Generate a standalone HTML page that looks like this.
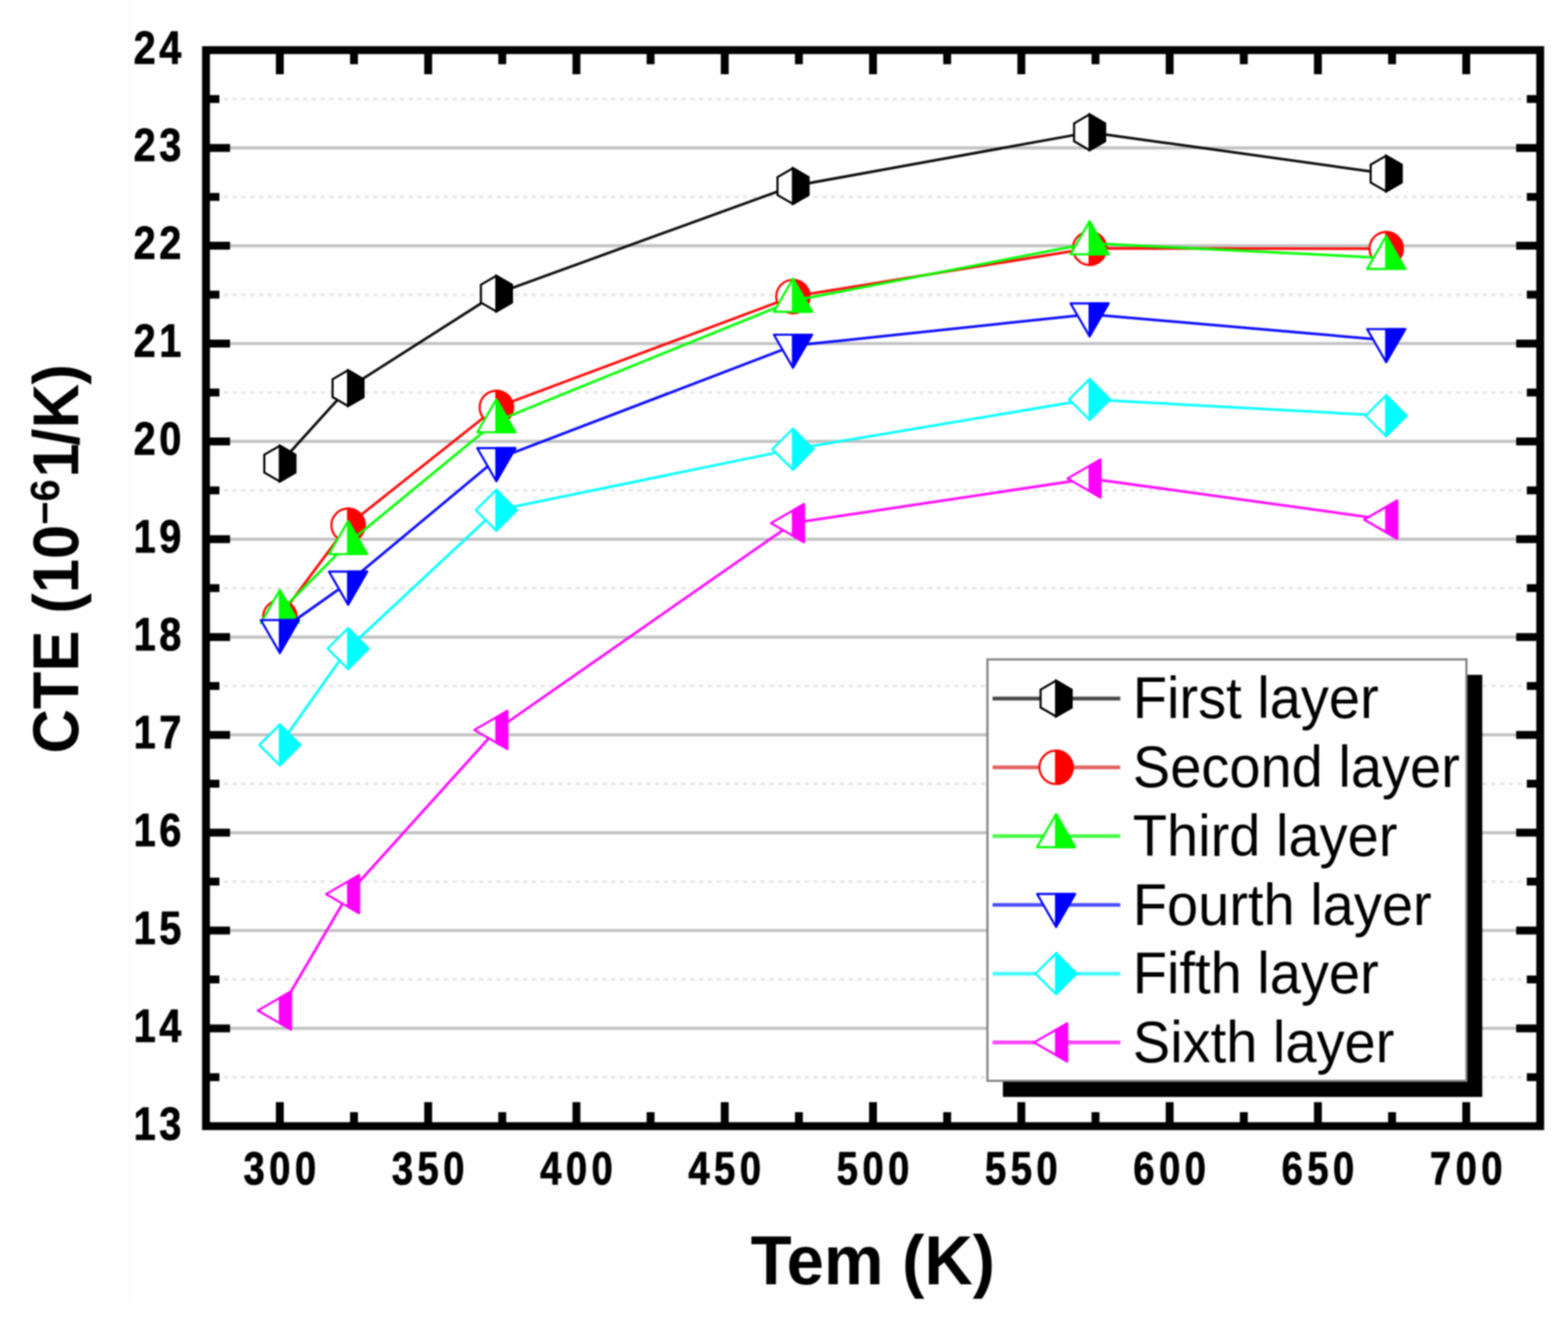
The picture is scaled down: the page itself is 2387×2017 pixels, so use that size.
<!DOCTYPE html>
<html lang="en"><head><meta charset="utf-8"><title>CTE versus Tem</title>
<style>html,body{margin:0;padding:0;background:#fefefe}body{width:2387px;height:2017px;overflow:hidden}svg{display:block;filter:blur(0.9px)}text{font-family:"Liberation Sans",sans-serif;fill:#000}.b{font-weight:bold}</style></head><body>
<svg width="2387" height="2017" viewBox="0 0 2387 2017">
<rect x="-20" y="-20" width="2427" height="2057" fill="#fefefe"/>
<rect x="195.8" y="-20" width="3" height="2000" fill="#fcfcfc"/>
<g fill="none">
<path d="M313.6,1565.4H2344.7 M313.6,1416.5H2344.7 M313.6,1267.6H2344.7 M313.6,1118.7H2344.7 M313.6,969.8H2344.7 M313.6,820.8H2344.7 M313.6,671.9H2344.7 M313.6,523H2344.7 M313.6,374.1H2344.7 M313.6,225.2H2344.7" stroke="#c2c2c2" stroke-width="4.7"/>
<path d="M340.6,1639.8H2344.7 M340.6,1490.9H2344.7 M340.6,1342H2344.7 M340.6,1193.1H2344.7 M340.6,1044.2H2344.7 M340.6,895.3H2344.7 M340.6,746.4H2344.7 M340.6,597.5H2344.7 M340.6,448.6H2344.7 M340.6,299.7H2344.7 M340.6,150.8H2344.7" stroke="#e9e9e9" stroke-width="4.2" stroke-dasharray="6.5 6.9"/>
</g>
<polyline points="426,705.7 529.9,590.9 755.6,447 1207.1,283.2 1658.7,201.4 2110.2,264.3" fill="none" stroke="#000" stroke-width="4.0" stroke-opacity="0.95" stroke-linejoin="round"/>
<g stroke="#000" stroke-width="3.2" stroke-linejoin="miter"><polygon points="426,678.5 449.6,692.1 449.6,719.3 426,732.9 402.4,719.3 402.4,692.1" fill="#fff"/><polygon points="426,678.5 449.6,692.1 449.6,719.3 426,732.9" fill="#000"/></g>
<g stroke="#000" stroke-width="3.2" stroke-linejoin="miter"><polygon points="529.9,563.7 553.4,577.3 553.4,604.5 529.9,618.1 506.3,604.5 506.3,577.3" fill="#fff"/><polygon points="529.9,563.7 553.4,577.3 553.4,604.5 529.9,618.1" fill="#000"/></g>
<g stroke="#000" stroke-width="3.2" stroke-linejoin="miter"><polygon points="755.6,419.8 779.2,433.4 779.2,460.6 755.6,474.2 732.1,460.6 732.1,433.4" fill="#fff"/><polygon points="755.6,419.8 779.2,433.4 779.2,460.6 755.6,474.2" fill="#000"/></g>
<g stroke="#000" stroke-width="3.2" stroke-linejoin="miter"><polygon points="1207.1,256 1230.7,269.6 1230.7,296.8 1207.1,310.4 1183.6,296.8 1183.6,269.6" fill="#fff"/><polygon points="1207.1,256 1230.7,269.6 1230.7,296.8 1207.1,310.4" fill="#000"/></g>
<g stroke="#000" stroke-width="3.2" stroke-linejoin="miter"><polygon points="1658.7,174.2 1682.2,187.8 1682.2,215 1658.7,228.6 1635.1,215 1635.1,187.8" fill="#fff"/><polygon points="1658.7,174.2 1682.2,187.8 1682.2,215 1658.7,228.6" fill="#000"/></g>
<g stroke="#000" stroke-width="3.2" stroke-linejoin="miter"><polygon points="2110.2,237.1 2133.7,250.7 2133.7,277.9 2110.2,291.5 2086.6,277.9 2086.6,250.7" fill="#fff"/><polygon points="2110.2,237.1 2133.7,250.7 2133.7,277.9 2110.2,291.5" fill="#000"/></g>
<polyline points="426,939 529.9,799.5 755.6,620.2 1207.1,451.4 1658.7,378 2110.2,378.6" fill="none" stroke="#f00" stroke-width="4.0" stroke-opacity="0.95" stroke-linejoin="round"/>
<g stroke="#f00" stroke-width="3.2"><circle cx="426" cy="939" r="25.4" fill="#fff"/><path d="M426,913.6A25.4,25.4 0 0 1 426,964.4Z" fill="#f00"/></g>
<g stroke="#f00" stroke-width="3.2"><circle cx="529.9" cy="799.5" r="25.4" fill="#fff"/><path d="M529.9,774.1A25.4,25.4 0 0 1 529.9,824.9Z" fill="#f00"/></g>
<g stroke="#f00" stroke-width="3.2"><circle cx="755.6" cy="620.2" r="25.4" fill="#fff"/><path d="M755.6,594.8A25.4,25.4 0 0 1 755.6,645.6Z" fill="#f00"/></g>
<g stroke="#f00" stroke-width="3.2"><circle cx="1207.1" cy="451.4" r="25.4" fill="#fff"/><path d="M1207.1,426A25.4,25.4 0 0 1 1207.1,476.8Z" fill="#f00"/></g>
<g stroke="#f00" stroke-width="3.2"><circle cx="1658.7" cy="378" r="25.4" fill="#fff"/><path d="M1658.7,352.6A25.4,25.4 0 0 1 1658.7,403.4Z" fill="#f00"/></g>
<g stroke="#f00" stroke-width="3.2"><circle cx="2110.2" cy="378.6" r="25.4" fill="#fff"/><path d="M2110.2,353.2A25.4,25.4 0 0 1 2110.2,404Z" fill="#f00"/></g>
<polyline points="426,931.6 529.9,826.8 755.6,641.3 1207.1,457.8 1658.7,370.3 2110.2,392.7" fill="none" stroke="#0f0" stroke-width="4.0" stroke-opacity="0.95" stroke-linejoin="round"/>
<g stroke="#0f0" stroke-width="3.2" stroke-linejoin="round"><polygon points="426,898.1 455,948.4 397,948.4" fill="#fff"/><polygon points="426,898.1 455,948.4 426,948.4" fill="#0f0"/></g>
<g stroke="#0f0" stroke-width="3.2" stroke-linejoin="round"><polygon points="529.9,793.3 558.9,843.5 500.8,843.5" fill="#fff"/><polygon points="529.9,793.3 558.9,843.5 529.9,843.5" fill="#0f0"/></g>
<g stroke="#0f0" stroke-width="3.2" stroke-linejoin="round"><polygon points="755.6,607.8 784.6,658 726.6,658" fill="#fff"/><polygon points="755.6,607.8 784.6,658 755.6,658" fill="#0f0"/></g>
<g stroke="#0f0" stroke-width="3.2" stroke-linejoin="round"><polygon points="1207.1,424.3 1236.2,474.6 1178.1,474.6" fill="#fff"/><polygon points="1207.1,424.3 1236.2,474.6 1207.1,474.6" fill="#0f0"/></g>
<g stroke="#0f0" stroke-width="3.2" stroke-linejoin="round"><polygon points="1658.7,336.8 1687.7,387.1 1629.7,387.1" fill="#fff"/><polygon points="1658.7,336.8 1687.7,387.1 1658.7,387.1" fill="#0f0"/></g>
<g stroke="#0f0" stroke-width="3.2" stroke-linejoin="round"><polygon points="2110.2,359.2 2139.2,409.4 2081.2,409.4" fill="#fff"/><polygon points="2110.2,359.2 2139.2,409.4 2110.2,409.4" fill="#0f0"/></g>
<polyline points="426,960.5 529.9,887 755.6,699 1207.1,526.3 1658.7,478.5 2110.2,517.7" fill="none" stroke="#00f" stroke-width="4.0" stroke-opacity="0.95" stroke-linejoin="round"/>
<g stroke="#00f" stroke-width="3.2" stroke-linejoin="round"><polygon points="426,994 455,943.8 397,943.8" fill="#fff"/><polygon points="426,994 455,943.8 426,943.8" fill="#00f"/></g>
<g stroke="#00f" stroke-width="3.2" stroke-linejoin="round"><polygon points="529.9,920.5 558.9,870.2 500.8,870.2" fill="#fff"/><polygon points="529.9,920.5 558.9,870.2 529.9,870.2" fill="#00f"/></g>
<g stroke="#00f" stroke-width="3.2" stroke-linejoin="round"><polygon points="755.6,732.5 784.6,682.2 726.6,682.2" fill="#fff"/><polygon points="755.6,732.5 784.6,682.2 755.6,682.2" fill="#00f"/></g>
<g stroke="#00f" stroke-width="3.2" stroke-linejoin="round"><polygon points="1207.1,559.8 1236.2,509.5 1178.1,509.5" fill="#fff"/><polygon points="1207.1,559.8 1236.2,509.5 1207.1,509.5" fill="#00f"/></g>
<g stroke="#00f" stroke-width="3.2" stroke-linejoin="round"><polygon points="1658.7,512 1687.7,461.8 1629.7,461.8" fill="#fff"/><polygon points="1658.7,512 1687.7,461.8 1658.7,461.8" fill="#00f"/></g>
<g stroke="#00f" stroke-width="3.2" stroke-linejoin="round"><polygon points="2110.2,551.2 2139.2,501 2081.2,501" fill="#fff"/><polygon points="2110.2,551.2 2139.2,501 2110.2,501" fill="#00f"/></g>
<polyline points="426,1134 529.9,987.3 755.6,776.7 1207.1,683.9 1658.7,608 2110.2,632.9" fill="none" stroke="#0ff" stroke-width="4.0" stroke-opacity="0.95" stroke-linejoin="round"/>
<g stroke="#0ff" stroke-width="3.2" stroke-linejoin="round"><polygon points="426,1102.8 457.2,1134 426,1165.2 394.8,1134" fill="#fff"/><polygon points="426,1102.8 457.2,1134 426,1165.2" fill="#0ff"/></g>
<g stroke="#0ff" stroke-width="3.2" stroke-linejoin="round"><polygon points="529.9,956.1 561.1,987.3 529.9,1018.5 498.7,987.3" fill="#fff"/><polygon points="529.9,956.1 561.1,987.3 529.9,1018.5" fill="#0ff"/></g>
<g stroke="#0ff" stroke-width="3.2" stroke-linejoin="round"><polygon points="755.6,745.5 786.8,776.7 755.6,807.9 724.4,776.7" fill="#fff"/><polygon points="755.6,745.5 786.8,776.7 755.6,807.9" fill="#0ff"/></g>
<g stroke="#0ff" stroke-width="3.2" stroke-linejoin="round"><polygon points="1207.1,652.7 1238.3,683.9 1207.1,715.1 1175.9,683.9" fill="#fff"/><polygon points="1207.1,652.7 1238.3,683.9 1207.1,715.1" fill="#0ff"/></g>
<g stroke="#0ff" stroke-width="3.2" stroke-linejoin="round"><polygon points="1658.7,576.8 1689.9,608 1658.7,639.2 1627.5,608" fill="#fff"/><polygon points="1658.7,576.8 1689.9,608 1658.7,639.2" fill="#0ff"/></g>
<g stroke="#0ff" stroke-width="3.2" stroke-linejoin="round"><polygon points="2110.2,601.7 2141.4,632.9 2110.2,664.1 2079,632.9" fill="#fff"/><polygon points="2110.2,601.7 2141.4,632.9 2110.2,664.1" fill="#0ff"/></g>
<polyline points="426,1538.3 529.9,1361.1 755.6,1111.2 1207.1,796.3 1658.7,728.4 2110.2,791" fill="none" stroke="#f0f" stroke-width="4.0" stroke-opacity="0.95" stroke-linejoin="round"/>
<g stroke="#f0f" stroke-width="3.2" stroke-linejoin="round"><polygon points="392.5,1538.3 442.8,1509.3 442.8,1567.3" fill="#fff"/><polygon points="426,1519 442.8,1509.3 442.8,1567.3 426,1557.6" fill="#f0f"/></g>
<g stroke="#f0f" stroke-width="3.2" stroke-linejoin="round"><polygon points="496.4,1361.1 546.6,1332.1 546.6,1390.1" fill="#fff"/><polygon points="529.9,1341.8 546.6,1332.1 546.6,1390.1 529.9,1380.4" fill="#f0f"/></g>
<g stroke="#f0f" stroke-width="3.2" stroke-linejoin="round"><polygon points="722.1,1111.2 772.4,1082.2 772.4,1140.2" fill="#fff"/><polygon points="755.6,1091.9 772.4,1082.2 772.4,1140.2 755.6,1130.5" fill="#f0f"/></g>
<g stroke="#f0f" stroke-width="3.2" stroke-linejoin="round"><polygon points="1173.6,796.3 1223.9,767.3 1223.9,825.3" fill="#fff"/><polygon points="1207.1,777 1223.9,767.3 1223.9,825.3 1207.1,815.6" fill="#f0f"/></g>
<g stroke="#f0f" stroke-width="3.2" stroke-linejoin="round"><polygon points="1625.2,728.4 1675.4,699.4 1675.4,757.4" fill="#fff"/><polygon points="1658.7,709.1 1675.4,699.4 1675.4,757.4 1658.7,747.7" fill="#f0f"/></g>
<g stroke="#f0f" stroke-width="3.2" stroke-linejoin="round"><polygon points="2076.7,791 2126.9,762 2126.9,820" fill="#fff"/><polygon points="2110.2,771.7 2126.9,762 2126.9,820 2110.2,810.3" fill="#f0f"/></g>
<rect x="1526.7" y="1027.3" width="729.8" height="642.5" fill="#000"/>
<rect x="1503.2" y="1003.8" width="729.2" height="641.5" fill="#fefefe" stroke="#808080" stroke-width="3.2"/>
<line x1="1511" y1="1063.4" x2="1705.5" y2="1063.4" stroke="#484848" stroke-width="5.6"/>
<g stroke="#000" stroke-width="3.2" stroke-linejoin="miter"><polygon points="1607.7,1036.2 1631.3,1049.8 1631.3,1077 1607.7,1090.6 1584.1,1077 1584.1,1049.8" fill="#fff"/><polygon points="1607.7,1036.2 1631.3,1049.8 1631.3,1077 1607.7,1090.6" fill="#000"/></g>
<text transform="translate(1724.5,1093.4) scale(1,1.037)" font-size="85.3">First layer</text>
<line x1="1511" y1="1168.1" x2="1705.5" y2="1168.1" stroke="#e36363" stroke-width="5.6"/>
<g stroke="#f00" stroke-width="3.2"><circle cx="1607.7" cy="1168.1" r="25.4" fill="#fff"/><path d="M1607.7,1142.7A25.4,25.4 0 0 1 1607.7,1193.5Z" fill="#f00"/></g>
<text transform="translate(1724.5,1198.1) scale(1,1.037)" font-size="85.3">Second layer</text>
<line x1="1511" y1="1272.8" x2="1705.5" y2="1272.8" stroke="#44fb44" stroke-width="5.6"/>
<g stroke="#0f0" stroke-width="3.2" stroke-linejoin="round"><polygon points="1607.7,1239.3 1636.7,1289.6 1578.7,1289.6" fill="#fff"/><polygon points="1607.7,1239.3 1636.7,1289.6 1607.7,1289.6" fill="#0f0"/></g>
<text transform="translate(1724.5,1302.8) scale(1,1.037)" font-size="85.3">Third layer</text>
<line x1="1511" y1="1377.5" x2="1705.5" y2="1377.5" stroke="#4c4cfb" stroke-width="5.6"/>
<g stroke="#00f" stroke-width="3.2" stroke-linejoin="round"><polygon points="1607.7,1411 1636.7,1360.8 1578.7,1360.8" fill="#fff"/><polygon points="1607.7,1411 1636.7,1360.8 1607.7,1360.8" fill="#00f"/></g>
<text transform="translate(1724.5,1407.5) scale(1,1.037)" font-size="85.3">Fourth layer</text>
<line x1="1511" y1="1482.2" x2="1705.5" y2="1482.2" stroke="#44fbfb" stroke-width="5.6"/>
<g stroke="#0ff" stroke-width="3.2" stroke-linejoin="round"><polygon points="1607.7,1451 1638.9,1482.2 1607.7,1513.4 1576.5,1482.2" fill="#fff"/><polygon points="1607.7,1451 1638.9,1482.2 1607.7,1513.4" fill="#0ff"/></g>
<text transform="translate(1724.5,1512.2) scale(1,1.037)" font-size="85.3">Fifth layer</text>
<line x1="1511" y1="1586.9" x2="1705.5" y2="1586.9" stroke="#fb44fb" stroke-width="5.6"/>
<g stroke="#f0f" stroke-width="3.2" stroke-linejoin="round"><polygon points="1574.2,1586.9 1624.5,1557.9 1624.5,1615.9" fill="#fff"/><polygon points="1607.7,1567.6 1624.5,1557.9 1624.5,1615.9 1607.7,1606.2" fill="#f0f"/></g>
<text transform="translate(1724.5,1616.9) scale(1,1.037)" font-size="85.3">Sixth layer</text>
<path d="M426,76.3V112.9 M426,1714.3V1677.7 M651.8,76.3V112.9 M651.8,1714.3V1677.7 M877.5,76.3V112.9 M877.5,1714.3V1677.7 M1103.3,76.3V112.9 M1103.3,1714.3V1677.7 M1329,76.3V112.9 M1329,1714.3V1677.7 M1554.8,76.3V112.9 M1554.8,1714.3V1677.7 M1780.6,76.3V112.9 M1780.6,1714.3V1677.7 M2006.3,76.3V112.9 M2006.3,1714.3V1677.7 M2232.1,76.3V112.9 M2232.1,1714.3V1677.7 M538.9,76.3V97.7 M538.9,1714.3V1692.9 M764.6,76.3V97.7 M764.6,1714.3V1692.9 M990.4,76.3V97.7 M990.4,1714.3V1692.9 M1216.2,76.3V97.7 M1216.2,1714.3V1692.9 M1441.9,76.3V97.7 M1441.9,1714.3V1692.9 M1667.7,76.3V97.7 M1667.7,1714.3V1692.9 M1893.5,76.3V97.7 M1893.5,1714.3V1692.9 M2119.2,76.3V97.7 M2119.2,1714.3V1692.9 M313.6,1565.4H350.2 M2344.7,1565.4H2308.1 M313.6,1416.5H350.2 M2344.7,1416.5H2308.1 M313.6,1267.6H350.2 M2344.7,1267.6H2308.1 M313.6,1118.7H350.2 M2344.7,1118.7H2308.1 M313.6,969.8H350.2 M2344.7,969.8H2308.1 M313.6,820.8H350.2 M2344.7,820.8H2308.1 M313.6,671.9H350.2 M2344.7,671.9H2308.1 M313.6,523H350.2 M2344.7,523H2308.1 M313.6,374.1H350.2 M2344.7,374.1H2308.1 M313.6,225.2H350.2 M2344.7,225.2H2308.1 M313.6,1639.8H334 M2344.7,1639.8H2324.3 M313.6,1490.9H334 M2344.7,1490.9H2324.3 M313.6,1342H334 M2344.7,1342H2324.3 M313.6,1193.1H334 M2344.7,1193.1H2324.3 M313.6,1044.2H334 M2344.7,1044.2H2324.3 M313.6,895.3H334 M2344.7,895.3H2324.3 M313.6,746.4H334 M2344.7,746.4H2324.3 M313.6,597.5H334 M2344.7,597.5H2324.3 M313.6,448.6H334 M2344.7,448.6H2324.3 M313.6,299.7H334 M2344.7,299.7H2324.3 M313.6,150.8H334 M2344.7,150.8H2324.3" fill="none" stroke="#000" stroke-width="12.0"/>
<rect x="313.6" y="76.3" width="2031.1" height="1638" fill="none" stroke="#000" stroke-width="12.0"/>
<g class="b" font-size="70" stroke="#000" stroke-width="1.2" stroke-linejoin="round">
<text transform="translate(370.7,1802.5) scale(0.83,1.01)" letter-spacing="8.19">300</text>
<text transform="translate(596.5,1802.5) scale(0.83,1.01)" letter-spacing="8.19">350</text>
<text transform="translate(822.3,1802.5) scale(0.83,1.01)" letter-spacing="8.19">400</text>
<text transform="translate(1048,1802.5) scale(0.83,1.01)" letter-spacing="8.19">450</text>
<text transform="translate(1273.8,1802.5) scale(0.83,1.01)" letter-spacing="8.19">500</text>
<text transform="translate(1499.6,1802.5) scale(0.83,1.01)" letter-spacing="8.19">550</text>
<text transform="translate(1725.3,1802.5) scale(0.83,1.01)" letter-spacing="8.19">600</text>
<text transform="translate(1951.1,1802.5) scale(0.83,1.01)" letter-spacing="8.19">650</text>
<text transform="translate(2176.8,1802.5) scale(0.83,1.01)" letter-spacing="8.19">700</text>
<text transform="translate(203.4,1734.5) scale(0.86,1.01)" letter-spacing="6.55">13</text>
<text transform="translate(203.4,1585.6) scale(0.86,1.01)" letter-spacing="6.55">14</text>
<text transform="translate(203.4,1436.7) scale(0.86,1.01)" letter-spacing="6.55">15</text>
<text transform="translate(203.4,1287.8) scale(0.86,1.01)" letter-spacing="6.55">16</text>
<text transform="translate(203.4,1138.9) scale(0.86,1.01)" letter-spacing="6.55">17</text>
<text transform="translate(203.4,990) scale(0.86,1.01)" letter-spacing="6.55">18</text>
<text transform="translate(203.4,841) scale(0.86,1.01)" letter-spacing="6.55">19</text>
<text transform="translate(203.4,692.1) scale(0.86,1.01)" letter-spacing="6.55">20</text>
<text transform="translate(203.4,543.2) scale(0.86,1.01)" letter-spacing="6.55">21</text>
<text transform="translate(203.4,394.3) scale(0.86,1.01)" letter-spacing="6.55">22</text>
<text transform="translate(203.4,245.4) scale(0.86,1.01)" letter-spacing="6.55">23</text>
<text transform="translate(203.4,96.5) scale(0.86,1.01)" letter-spacing="6.55">24</text>
</g>
<text class="b" text-anchor="middle" font-size="102" transform="translate(1328.8,1954.8) scale(1,1.04)">Tem (K)</text>
<text class="b" font-size="93.5" transform="translate(119,1147) rotate(-90) scale(1,1.05)">CTE (10<tspan font-size="60.8" dy="-27.3">−6</tspan><tspan dy="27.3" dx="2.6">1</tspan><tspan dx="-3.5">/</tspan><tspan dx="0.5">K</tspan><tspan dx="-1">)</tspan></text>
</svg></body></html>
